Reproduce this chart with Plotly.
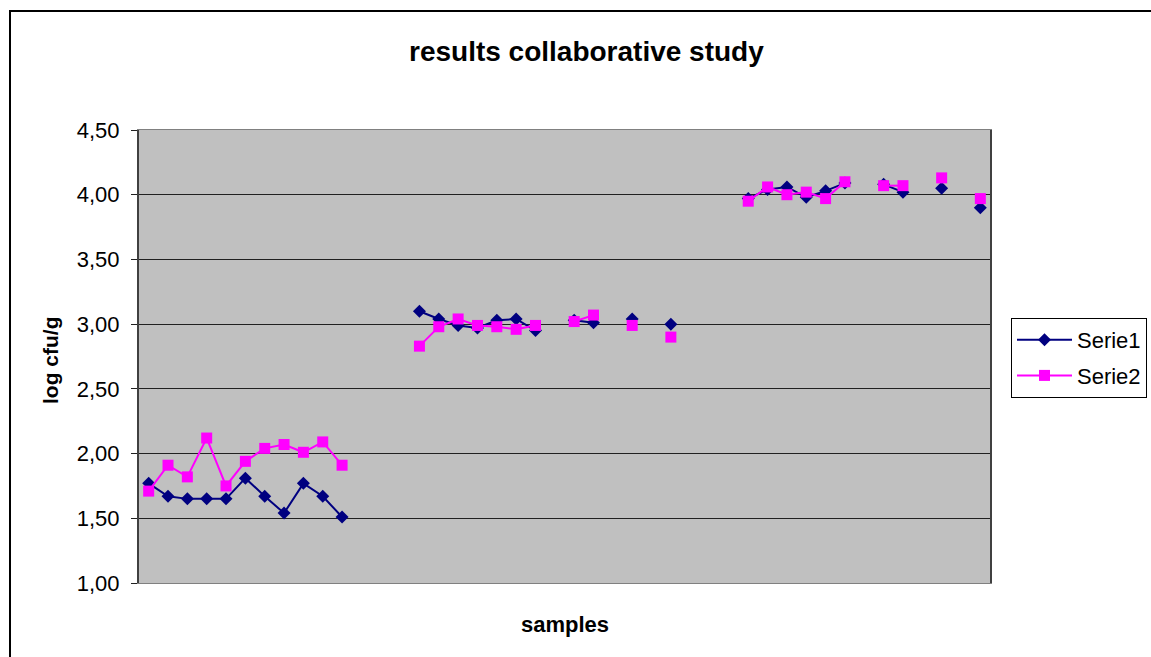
import plotly.graph_objects as go

# ---- data ----
samples = list(range(44))
serie1 = [1.77, 1.67, 1.65, 1.65, 1.65, 1.81, 1.67, 1.54, 1.77, 1.67, 1.51,
          None, None, None,
          3.10, 3.04, 2.99, 2.97, 3.03, 3.04, 2.95,
          None, 3.03, 3.01, None, 3.04, None, 3.00,
          None, None, None,
          3.97, 4.04, 4.06, 3.98, 4.03, 4.09,
          None, 4.08, 4.02, None, 4.05, None, 3.90]
serie2 = [1.71, 1.91, 1.82, 2.12, 1.75, 1.94, 2.04, 2.07, 2.01, 2.09, 1.91,
          None, None, None,
          2.83, 2.98, 3.04, 2.99, 2.98, 2.96, 2.99,
          None, 3.02, 3.07, None, 2.99, None, 2.90,
          None, None, None,
          3.95, 4.06, 4.00, 4.02, 3.97, 4.10,
          None, 4.07, 4.07, None, 4.13, None, 3.97]
series_names = ["Serie1", "Serie2"]
title_text = "results collaborative study"
x_title = "samples"
y_title = "log cfu/g"

FONT = "Liberation Sans, Arial, sans-serif"

# plot area in pixels
L, R, T, B = 139, 990, 130, 583
W, H = 1151, 657

def px(X):
    return (X - L) / (R - L)

def py(Y):
    return (B - Y) / (B - T)

fig = go.Figure()
fig.add_trace(go.Scatter(
    x=samples, y=serie1, name=series_names[0], mode="lines+markers",
    line=dict(color="#000080", width=2),
    marker=dict(symbol="diamond", size=10, color="#000080"),
    connectgaps=False, legendgroup="g1",
))
fig.add_trace(go.Scatter(
    x=samples, y=serie2, name=series_names[1], mode="lines+markers",
    line=dict(color="#FF00FF", width=2),
    marker=dict(symbol="square", size=11, color="#FF00FF"),
    connectgaps=False, legendgroup="g2",
))

fig.update_layout(
    width=W, height=H,
    margin=dict(l=L, r=W - R, t=T, b=H - B, pad=0, autoexpand=False),
    paper_bgcolor="white",
    plot_bgcolor="#C0C0C0",
    separators=", ",
    font=dict(family=FONT, size=22, color="black"),
    showlegend=True,
    legend=dict(
        x=px(1011), y=py(318), xanchor="left", yanchor="top",
        bordercolor="black", borderwidth=1, bgcolor="white",
        font=dict(family=FONT, size=22, color="black"),
        itemwidth=55, tracegroupgap=4,
    ),
    xaxis=dict(
        range=[-0.5, 43.5], showticklabels=False, ticks="",
        showgrid=False, zeroline=False,
        showline=True, linecolor="#808080", linewidth=1, mirror=True,
    ),
    yaxis=dict(
        range=[1, 4.5], dtick=0.5, tick0=1, tickformat=".2f",
        ticks="outside", ticklen=6, tickcolor="#202020", tickwidth=1,
        ticklabelstandoff=7,
        showgrid=True, gridcolor="#202020", gridwidth=1,
        zeroline=False,
        showline=True, linecolor="#404040", linewidth=2, mirror=True,
        tickfont=dict(family=FONT, size=22, color="black"),
    ),
    shapes=[
        dict(type="rect", xref="paper", yref="paper",
             x0=px(10), x1=px(1170), y0=py(680), y1=py(11),
             line=dict(color="black", width=2), fillcolor="rgba(0,0,0,0)",
             layer="below"),
    ],
    annotations=[
        dict(text="<b>%s</b>" % title_text, xref="paper", yref="paper",
             x=px(586), y=py(51), xanchor="center", yanchor="middle",
             showarrow=False, font=dict(family=FONT, size=28, color="black")),
        dict(text="<b>%s</b>" % x_title, xref="paper", yref="paper",
             x=px(565), y=py(624), xanchor="center", yanchor="middle",
             showarrow=False, font=dict(family=FONT, size=22, color="black")),
        dict(text="<b>%s</b>" % y_title, xref="paper", yref="paper",
             x=px(50), y=py(360), xanchor="center", yanchor="middle",
             textangle=-90,
             showarrow=False, font=dict(family=FONT, size=21, color="black")),
    ],
)

fig.write_html("out.html")
